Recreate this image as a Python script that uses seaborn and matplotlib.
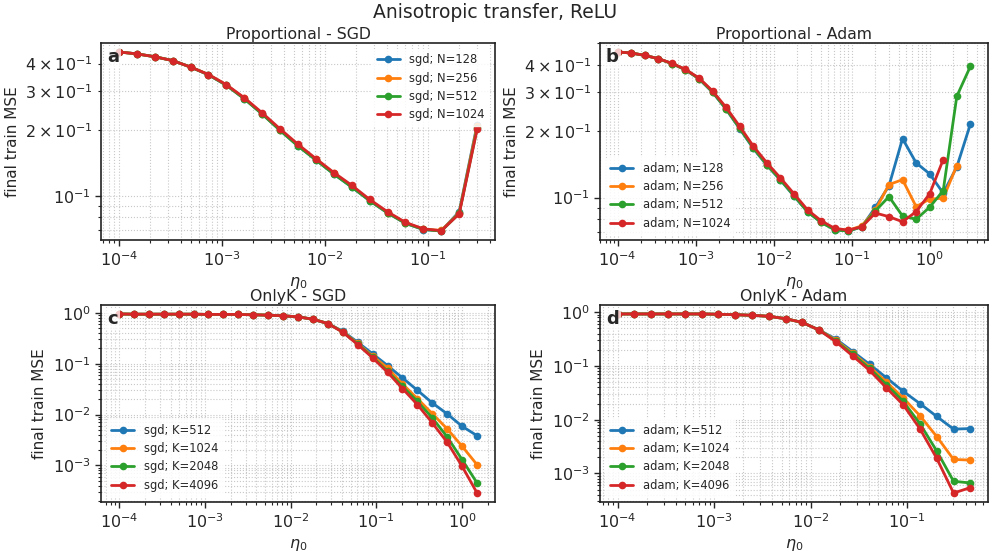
import numpy as np
import pandas as pd
import matplotlib
matplotlib.use("Agg")
import matplotlib.pyplot as plt
import seaborn as sns

# ---------------- data ----------------
eta = [1.0e-4, 1.4925e-4, 2.2275e-4, 3.3246e-4, 4.9620e-4, 7.4058e-4,
       1.1053e-3, 1.6497e-3, 2.4620e-3, 3.6750e-3, 5.4850e-3, 8.1860e-3,
       1.2218e-2, 1.8236e-2, 2.7220e-2, 4.0620e-2, 6.0630e-2, 9.0490e-2,
       0.1351, 0.2016, 0.3008, 0.4490, 0.6702, 1.0, 1.4925, 2.2275, 3.3246]

# Proportional - SGD
a_labels = ["sgd; N=128", "sgd; N=256", "sgd; N=512", "sgd; N=1024"]
a_N128 = [0.452, 0.443, 0.430, 0.413, 0.386, 0.356, 0.319, 0.277, 0.236, 0.199, 0.169,
          0.146, 0.126, 0.110, 0.0953, 0.0838, 0.0752, 0.0705, 0.0695, 0.0850, 0.211]
a_N256 = [0.452, 0.443, 0.430, 0.413, 0.386, 0.357, 0.320, 0.278, 0.237, 0.200, 0.170,
          0.147, 0.127, 0.111, 0.0958, 0.0842, 0.0755, 0.0708, 0.0698, 0.0840, 0.208]
a_N512 = [0.452, 0.443, 0.430, 0.413, 0.386, 0.356, 0.319, 0.277, 0.236, 0.199, 0.169,
          0.146, 0.126, 0.110, 0.0955, 0.0840, 0.0753, 0.0706, 0.0694, 0.0835, 0.203]
a_N1024 = [0.452, 0.443, 0.430, 0.413, 0.386, 0.357, 0.321, 0.280, 0.239, 0.202, 0.172,
           0.148, 0.128, 0.112, 0.0966, 0.0849, 0.0760, 0.0710, 0.0697, 0.0830, 0.201]

# Proportional - Adam
b_labels = ["adam; N=128", "adam; N=256", "adam; N=512", "adam; N=1024"]
b_N128 = [0.457, 0.452, 0.441, 0.426, 0.405, 0.379, 0.345, 0.300, 0.251, 0.205, 0.167,
          0.140, 0.120, 0.1015, 0.0862, 0.0772, 0.0716, 0.0705, 0.0737,
          0.0904, 0.113, 0.185, 0.1437, 0.128, 0.1047, 0.1377, 0.215]
b_N256 = [0.457, 0.452, 0.441, 0.426, 0.405, 0.380, 0.346, 0.302, 0.253, 0.207, 0.169,
          0.141, 0.121, 0.1025, 0.0868, 0.0777, 0.0720, 0.0710, 0.0745,
          0.0879, 0.1145, 0.1205, 0.0910, 0.0984, 0.0993, 0.1396]
b_N512 = [0.457, 0.452, 0.441, 0.426, 0.405, 0.380, 0.346, 0.301, 0.252, 0.206, 0.168,
          0.141, 0.1205, 0.102, 0.0862, 0.0772, 0.0714, 0.0705, 0.0737,
          0.0870, 0.101, 0.0825, 0.0797, 0.0904, 0.1076, 0.2877, 0.393]
b_N1024 = [0.457, 0.452, 0.441, 0.426, 0.406, 0.381, 0.348, 0.304, 0.256, 0.210, 0.171,
           0.1437, 0.1227, 0.1040, 0.0879, 0.0785, 0.0725, 0.0712, 0.0737,
           0.0851, 0.0819, 0.0777, 0.0863, 0.104, 0.1487]

# OnlyK - SGD
c_labels = ["sgd; K=512", "sgd; K=1024", "sgd; K=2048", "sgd; K=4096"]
c_common = [0.95, 0.94, 0.94, 0.94, 0.94, 0.94, 0.93, 0.93, 0.93, 0.915, 0.90, 0.873,
            0.834, 0.748, 0.616]
c_K512 = c_common + [0.434, 0.264, 0.156, 0.0918, 0.0525, 0.0300, 0.0169, 0.01028,
                     0.00586, 0.00384]
c_K1024 = c_common + [0.425, 0.250, 0.141, 0.0827, 0.0400, 0.0206, 0.0104, 0.00521,
                      0.00237, 0.00103]
c_K2048 = c_common + [0.420, 0.243, 0.135, 0.0709, 0.0359, 0.0182, 0.00857, 0.00362,
                      0.00129, 0.000451]
c_K4096 = c_common + [0.415, 0.238, 0.130, 0.0677, 0.0324, 0.01567, 0.00684, 0.00284,
                      0.000955, 0.000286]

# OnlyK - Adam
d_labels = ["adam; K=512", "adam; K=1024", "adam; K=2048", "adam; K=4096"]
d_common = [0.93, 0.93, 0.93, 0.93, 0.93, 0.93, 0.917, 0.90, 0.878, 0.841, 0.759,
            0.645, 0.466]
d_K512 = d_common + [0.316, 0.1855, 0.1072, 0.0603, 0.0338, 0.0199, 0.01148, 0.00667,
                     0.00684]
d_K1024 = d_common + [0.302, 0.1723, 0.0970, 0.0507, 0.0254, 0.01184, 0.00484,
                      0.00182, 0.00177]
d_K2048 = d_common + [0.290, 0.1650, 0.0902, 0.0452, 0.0220, 0.00838, 0.00261,
                      0.000714, 0.000664]
d_K4096 = d_common + [0.281, 0.1534, 0.0827, 0.0392, 0.0190, 0.00675, 0.00190,
                      0.000431, 0.000544]

panels = [
    ("a", "Proportional - SGD", a_labels, [a_N128, a_N256, a_N512, a_N1024], "upper right"),
    ("b", "Proportional - Adam", b_labels, [b_N128, b_N256, b_N512, b_N1024], "lower left"),
    ("c", "OnlyK - SGD", c_labels, [c_K512, c_K1024, c_K2048, c_K4096], "lower left"),
    ("d", "OnlyK - Adam", d_labels, [d_K512, d_K1024, d_K2048, d_K4096], "lower left"),
]

# ---------------- style ----------------
sns.set_style("ticks")
plt.rcParams["font.family"] = ["DejaVu Sans"]
plt.rcParams["axes.edgecolor"] = "#222222"
plt.rcParams["axes.linewidth"] = 1.2
plt.rcParams["mathtext.fontset"] = "dejavusans"
palette = sns.color_palette("tab10", 4)

fig = plt.figure(figsize=(9.9, 5.52), dpi=100)
W, H = 990.0, 552.0
boxes = [(101, 43, 495, 240), (600, 43, 988, 240),
         (101, 305, 495, 502), (600, 305, 988, 502)]

for (letter, title, labels, series, loc), (x0, y0, x1, y1) in zip(panels, boxes):
    ax = fig.add_axes([x0 / W, 1 - y1 / H, (x1 - x0) / W, (y1 - y0) / H])
    rows = []
    for lab, vals in zip(labels, series):
        for e, v in zip(eta, vals):
            rows.append({"eta": e, "mse": v, "run": lab})
    df = pd.DataFrame(rows)
    sns.lineplot(data=df, x="eta", y="mse", hue="run", hue_order=labels,
                 palette=palette, marker="o", markersize=5.5, markeredgewidth=0,
                 linewidth=2.0, ax=ax, sort=True, estimator=None)
    ax.set_xscale("log")
    ax.set_yscale("log")
    ax.grid(True, which="both", linestyle=":", color="#c8c8c8", linewidth=0.8)
    ax.set_axisbelow(True)
    ax.set_title(title, fontsize=11.3, pad=3)
    ax.set_xlabel(r"$\eta_0$", fontsize=11.5, labelpad=4)
    ax.set_ylabel("final train MSE", fontsize=11)
    ax.tick_params(axis="both", which="both", labelsize=11.5)
    ax.tick_params(axis="both", which="major", length=4, width=1)
    ax.tick_params(axis="both", which="minor", length=2.5, width=0.8)
    for s in ax.spines.values():
        s.set_visible(True)
    ax.legend(loc=loc, fontsize=8.3, frameon=True, framealpha=0.85,
              edgecolor="white", facecolor="white", handlelength=2.0,
              borderpad=0.4, labelspacing=0.45)
    ax.text(0.015, 0.975, letter, transform=ax.transAxes, ha="left", va="top",
            fontsize=13, fontweight="bold",
            bbox=dict(facecolor="white", edgecolor="none", alpha=0.75, pad=1.5))

fig.suptitle("Anisotropic transfer, ReLU", fontsize=13.5, y=0.995)
fig.savefig("out.png", dpi=100)
